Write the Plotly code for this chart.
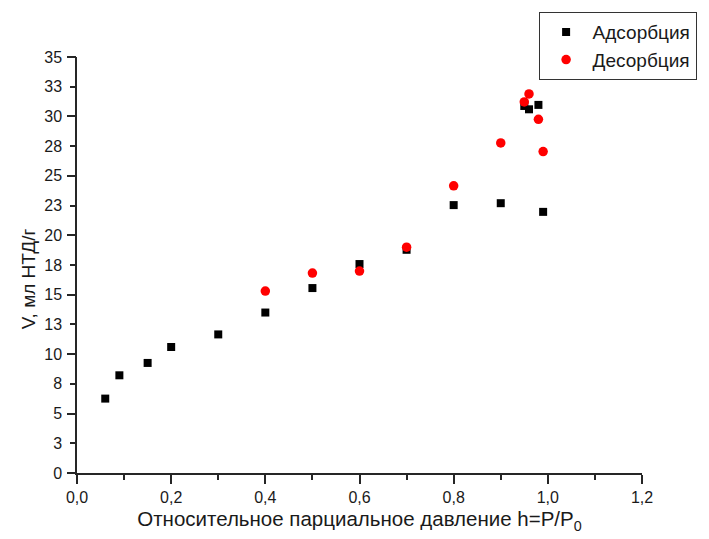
import plotly.graph_objects as go

# Data
ads_h = [0.06, 0.09, 0.15, 0.2, 0.3, 0.4, 0.5, 0.6, 0.7, 0.8, 0.9, 0.95, 0.96, 0.98, 0.99]
ads_v = [6.26, 8.22, 9.26, 10.6, 11.66, 13.5, 15.56, 17.58, 18.78, 22.54, 22.7, 30.88, 30.6, 30.97, 21.97]
des_h = [0.4, 0.5, 0.6, 0.7, 0.8, 0.9, 0.95, 0.96, 0.98, 0.99]
des_v = [15.31, 16.82, 16.99, 19.0, 24.16, 27.77, 31.22, 31.89, 29.76, 27.04]

y_tickvals = [0, 2.5, 5, 7.5, 10, 12.5, 15, 17.5, 20, 22.5, 25, 27.5, 30, 32.5, 35]
y_ticktext = ["0", "3", "5", "8", "10", "13", "15", "18", "20", "23", "25", "28", "30", "33", "35"]
y_major = [0, 5, 10, 15, 20, 25, 30, 35]
x_tickvals = [0, 0.2, 0.4, 0.6, 0.8, 1.0, 1.2]
x_ticktext = ["0,0", "0,2", "0,4", "0,6", "0,8", "1,0", "1,2"]
x_minor = [0.1, 0.3, 0.5, 0.7, 0.9, 1.1]

FONT = "Arial, Liberation Sans, sans-serif"
AX = "#262626"

fig = go.Figure()
fig.add_trace(go.Scatter(x=ads_h, y=ads_v, mode="markers", name="Адсорбция",
                         marker=dict(symbol="square", size=8, color="black")))
fig.add_trace(go.Scatter(x=des_h, y=des_v, mode="markers", name="Десорбция",
                         marker=dict(symbol="circle", size=9.5, color="#ff0000")))
fig.add_trace(go.Scatter(x=[], y=[], yaxis="y2", showlegend=False))

fig.update_layout(
    width=701, height=531, autosize=False,
    margin=dict(l=68.5, r=66.5, t=49, b=65.5, autoexpand=False),
    paper_bgcolor="white", plot_bgcolor="white",
    font=dict(family=FONT, color="#1a1a1a"),
    xaxis=dict(range=[0, 1.2], tickvals=x_tickvals, ticktext=x_ticktext,
               ticks="outside", ticklen=9, tickwidth=1.5, tickcolor=AX,
               minor=dict(tickvals=x_minor, ticks="outside", ticklen=5, tickwidth=1.5, tickcolor=AX),
               showline=True, linecolor=AX, linewidth=1.5,
               showgrid=False, zeroline=False, tickfont=dict(size=16),
               title=dict(text="Относительное парциальное давление h=P/P<sub>0</sub>",
                          font=dict(size=20.5), standoff=7)),
    yaxis=dict(range=[0, 35], tickvals=y_tickvals, ticktext=y_ticktext,
               ticks="outside", ticklen=5, tickwidth=1.5, tickcolor=AX,
               ticklabelstandoff=5,
               showline=True, linecolor=AX, linewidth=1.5,
               showgrid=False, zeroline=False, tickfont=dict(size=16)),
    yaxis2=dict(range=[0, 35], overlaying="y", side="left", tickvals=y_major,
                ticks="outside", ticklen=9, tickwidth=1.5, tickcolor=AX,
                showticklabels=False, showline=False, showgrid=False, zeroline=False),
    legend=dict(x=0.817, y=1.108, xanchor="left", yanchor="top",
                bordercolor="#333", borderwidth=1, bgcolor="white",
                font=dict(size=19), tracegroupgap=0, itemwidth=43),
    annotations=[dict(text="V, мл НТД/г", textangle=-90, xref="paper", yref="paper",
                      x=-0.0857, y=0.467, xanchor="center", yanchor="middle",
                      showarrow=False, font=dict(size=19))],
)

fig.write_html("out.html")
